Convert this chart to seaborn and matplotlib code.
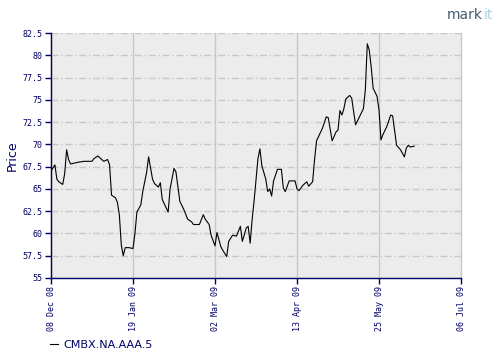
import numpy as np
import pandas as pd
import matplotlib
matplotlib.use("Agg")
import matplotlib.pyplot as plt
import matplotlib.dates as mdates
import seaborn as sns

# day offsets from 08 Dec 2008 and prices
start = pd.Timestamp("2008-12-08")
day_offsets = [0, 2, 3, 4, 6, 7, 8, 9, 10, 14, 17, 21, 22, 24, 27, 29, 30, 31, 33, 34,
               35, 36, 37, 38, 40, 42, 43, 44, 46, 47, 49, 50, 52, 53, 55, 56, 57, 60, 61, 63,
               64, 66, 68, 70, 72, 73, 76, 78, 79, 81, 82, 84, 85, 87, 88, 90, 91, 93, 95, 97,
               98, 100, 101, 102, 103, 104, 106, 107, 108, 110, 111, 112, 113, 114, 116, 118, 119, 120, 122, 125,
               126, 127, 129, 131, 132, 134, 135, 136, 139, 141, 142, 144, 146, 147, 148, 149, 150, 151, 153, 154,
               156, 158, 160, 161, 162, 163, 164, 165, 167, 168, 169, 170, 172, 174, 175, 177, 179, 181, 182, 183,
               184, 186]
prices = [67.0, 67.7, 66.1, 65.8, 65.5, 66.7, 69.4, 68.3, 67.8, 68.0, 68.1, 68.1, 68.4, 68.7, 68.1, 68.3, 67.7, 64.3, 64.0, 63.5,
          62.1, 58.7, 57.5, 58.4, 58.4, 58.3, 60.0, 62.4, 63.2, 64.7, 66.9, 68.6, 66.1, 65.6, 65.2, 65.7, 63.8, 62.4, 65.0, 67.3,
          66.9, 63.6, 62.7, 61.6, 61.3, 61.0, 61.0, 62.1, 61.6, 61.0, 59.8, 58.6, 60.1, 58.5, 58.1, 57.4, 59.1, 59.8, 59.7, 60.8,
          59.1, 60.6, 60.8, 58.9, 61.5, 63.6, 68.4, 69.5, 67.6, 66.1, 64.7, 65.0, 64.2, 65.9, 67.2, 67.2, 65.1, 64.7, 65.9, 65.9,
          65.0, 64.8, 65.4, 65.8, 65.3, 65.8, 68.3, 70.4, 71.8, 73.1, 73.0, 70.4, 71.4, 71.6, 73.8, 73.3, 74.0, 75.1, 75.5, 75.2,
          72.2, 73.1, 74.0, 76.1, 81.3, 80.6, 78.7, 76.3, 75.4, 73.9, 70.5, 71.1, 72.0, 73.3, 73.2, 69.9, 69.4, 68.6, 69.6, 69.9,
          69.7, 69.8]

y_ticks = [55, 57.5, 60, 62.5, 65, 67.5, 70, 72.5, 75, 77.5, 80, 82.5]
x_tick_dates = ["2008-12-08", "2009-01-19", "2009-03-02", "2009-04-13", "2009-05-25", "2009-07-06"]
series_name = "CMBX.NA.AAA.5"

df = pd.DataFrame({"date": start + pd.to_timedelta(day_offsets, unit="D"), "price": prices})

navy = "#000066"
fig = plt.figure(figsize=(5, 3.6), dpi=100)
ax = fig.add_axes([0.102, 0.228, 0.82, 0.68])
ax.set_facecolor("#ececec")

sns.lineplot(data=df, x="date", y="price", color="black", lw=0.8, ax=ax, label=series_name, legend=False)

ax.set_xlim(pd.Timestamp(x_tick_dates[0]), pd.Timestamp(x_tick_dates[-1]))
ax.set_ylim(y_ticks[0], y_ticks[-1])
ax.set_xticks([pd.Timestamp(d) for d in x_tick_dates])
ax.xaxis.set_major_formatter(mdates.DateFormatter("%d %b %y"))
ax.set_yticks(y_ticks)
ax.set_yticklabels([("%g" % v) for v in y_ticks])

ax.grid(axis="x", color="#c8c8c8", lw=1, ls="-", clip_on=False)
ax.grid(axis="y", color="#c8c8c8", lw=1, ls=(0, (5, 2, 1, 2)))
ax.set_axisbelow(True)

for s in ["top", "right"]:
    ax.spines[s].set_visible(False)
for s in ["left", "bottom"]:
    ax.spines[s].set_color(navy)
    ax.spines[s].set_linewidth(1)

ax.tick_params(colors=navy, length=4, width=1, direction="out", labelsize=6, pad=2)
for lbl in ax.get_xticklabels():
    lbl.set_rotation(90)
    lbl.set_family("DejaVu Sans Mono")
for lbl in ax.get_yticklabels():
    lbl.set_family("DejaVu Sans Mono")

ax.set_xlabel("")
ax.set_ylabel("Price", color=navy, fontsize=9)
ax.yaxis.set_label_coords(-0.078, 0.5)

fig.legend(loc="lower left", bbox_to_anchor=(0.08, 0.0), frameon=False, fontsize=8,
           handlelength=0.7, labelcolor=navy, handletextpad=0.5)

fig.text(0.893, 0.938, "mark", color="#3f5f72", fontsize=10, ha="left", va="bottom")
fig.text(0.967, 0.938, "it", color="#a9d3e4", fontsize=10, ha="left", va="bottom")

plt.savefig("out.png", dpi=100)
